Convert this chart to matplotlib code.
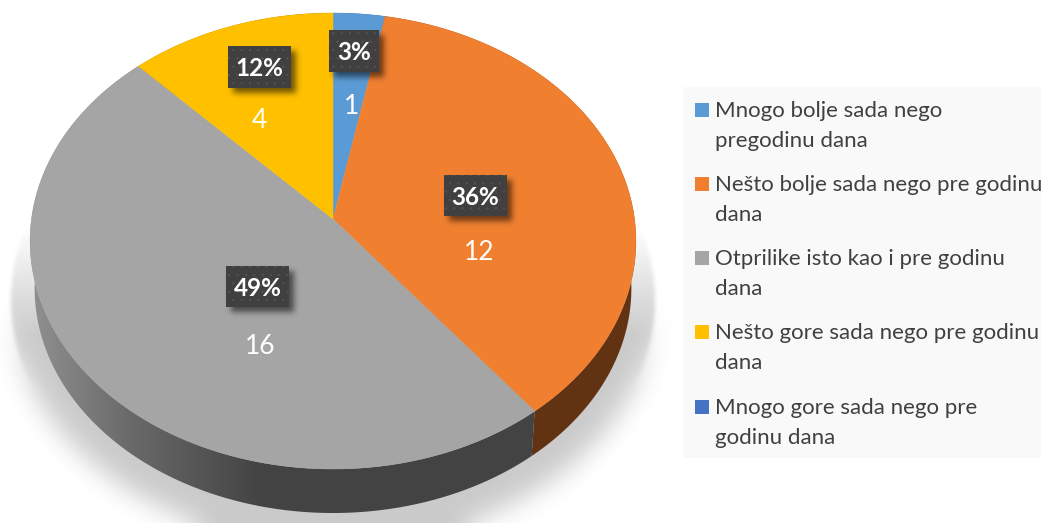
import numpy as np
import matplotlib
matplotlib.use("Agg")
import matplotlib.pyplot as plt
from matplotlib.patches import Polygon, Rectangle

categories = ["Mnogo bolje sada nego\npregodinu dana",
              "Nešto bolje sada nego pre godinu\ndana",
              "Otprilike isto kao i pre godinu\ndana",
              "Nešto gore sada nego pre godinu\ndana",
              "Mnogo gore sada nego pre\ngodinu dana"]
values = [1, 12, 16, 4, 0]
percent_labels = ["3%", "36%", "49%", "12%", ""]
colors = ["#5B9BD5", "#F07F30", "#A5A5A5", "#FFC000", "#4472C4"]

W, H = 1041, 523
plt.rcParams["font.family"] = ["Lato", "DejaVu Sans"]
plt.rcParams["hatch.linewidth"] = 0.3
fig = plt.figure(figsize=(W / 100, H / 100), dpi=100, facecolor="white")
ax = fig.add_axes([0, 0, 1, 1])
ax.axis("off")

# perspective projection of the flat pie disc
CX, CY, A, B, K = 333.0, 219.0, 301.5, 225.9, 0.0965
DEPTH, SCALE, MIDY = 47.4, 0.985, 241.0


def top_rim(theta):
    x, y = np.sin(theta), np.cos(theta)
    d = 1 + K * y
    return CX + A * x / d, CY - B * y / d


def bottom_rim(theta):
    px, py = top_rim(theta)
    return CX + (px - CX) * SCALE, MIDY + (py - MIDY) * SCALE + DEPTH


def blur(a, sigma):
    r = int(3 * sigma)
    k = np.exp(-0.5 * (np.arange(-r, r + 1) / sigma) ** 2)
    k /= k.sum()
    pad = np.pad(a, r, mode="edge")
    pad = np.apply_along_axis(lambda m: np.convolve(m, k, mode="same"), 0, pad)
    pad = np.apply_along_axis(lambda m: np.convolve(m, k, mode="same"), 1, pad)
    return pad[r:-r, r:-r]


yy, xx = np.mgrid[0:H, 0:W] + 0.5
# soft ground shadow: crisp near the top of its sides, softer lower down
mask = (((xx - CX) / 322.0) ** 2 + ((yy - 300) / 245.0) ** 2 <= 1).astype(float)
soft_w = np.clip((yy - 300) / 90.0, 0, 1)
shadow = blur(mask, 2.0) * (1 - soft_w) + blur(mask, 13.0) * soft_w
fade = np.clip((yy - 225) / 110.0, 0, 1)
alpha = shadow * fade * 0.21
rgba = np.zeros((H, W, 4))
rgba[..., 3] = alpha
ax.imshow(rgba, extent=(0, W, H, 0), aspect="auto", zorder=1, interpolation="bilinear")

# wedges
total = sum(values)
edges = 2 * np.pi * np.cumsum([0] + values) / total
side_factor = np.interp(xx[0], [29, 130, 260, 1041], [0.88, 0.64, 0.41, 0.40])
for i, v in enumerate(values):
    if v == 0:
        continue
    t = np.linspace(edges[i], edges[i + 1], 200)
    tx, ty = top_rim(t)
    bx, by = bottom_rim(t)
    side = Polygon(np.column_stack([np.r_[tx, bx[::-1]], np.r_[ty, by[::-1]]]),
                   closed=True, fc="none", ec="none", zorder=2)
    ax.add_patch(side)
    base = np.array(matplotlib.colors.to_rgb(colors[i]))
    grad = (side_factor[:, None] * base)[None, :, :]
    im = ax.imshow(grad, extent=(0, W, H, 0), aspect="auto", zorder=2)
    im.set_clip_path(side)
for i, v in enumerate(values):
    if v == 0:
        continue
    t = np.linspace(edges[i], edges[i + 1], 200)
    tx, ty = top_rim(t)
    ax.add_patch(Polygon(np.column_stack([np.r_[CX, tx], np.r_[CY, ty]]), closed=True,
                         fc=colors[i], ec=colors[i], lw=0.3, zorder=3))

# label boxes: left, top, width, height
boxes = [(329, 30, 50, 42), (444, 175, 63, 41), (226, 266, 63, 41), (228, 46, 63, 42)]
value_pos = [(352, 107), (479, 253), (260, 347), (259, 120)]
box_shadow = np.zeros((H, W))
for (l, tp, w, h) in boxes:
    box_shadow[tp + 5:tp + h + 5, l + 5:l + w + 5] = 1
box_shadow = blur(box_shadow, 3.0)
rgba = np.zeros((H, W, 4))
rgba[..., 3] = box_shadow * 0.55
ax.imshow(rgba, extent=(0, W, H, 0), aspect="auto", zorder=4, interpolation="bilinear")
for i, (l, tp, w, h) in enumerate(boxes):
    ax.add_patch(Rectangle((l, tp), w, h, fc="#404040", ec="#565656", lw=0, hatch="..", zorder=5))
    ax.text(l + w / 2, tp + h / 2 + 2, percent_labels[i], color="white", fontsize=17.5, fontweight="bold",
            ha="center", va="center", zorder=6)
    ax.text(*value_pos[i], str(values[i]), color="white", fontsize=19, ha="center", va="center", zorder=6)

# legend
ax.add_patch(Rectangle((683, 87), W - 683, 371, fc="#F9F9F9", ec="none", zorder=1))
sw_y = [103, 177, 251, 325, 400]
for i, c in enumerate(categories):
    ax.add_patch(Rectangle((695, sw_y[i]), 14, 14, fc=colors[i], ec="none", zorder=2))
    ax.text(715, sw_y[i] + 8, c.split("\n")[0], color="#404040", fontsize=16, va="center", ha="left", zorder=2)
    ax.text(715, sw_y[i] + 38, c.split("\n")[1], color="#404040", fontsize=16, va="center", ha="left", zorder=2)

ax.set_xlim(0, W)
ax.set_ylim(H, 0)
fig.savefig("out.png", dpi=100, facecolor="white")
